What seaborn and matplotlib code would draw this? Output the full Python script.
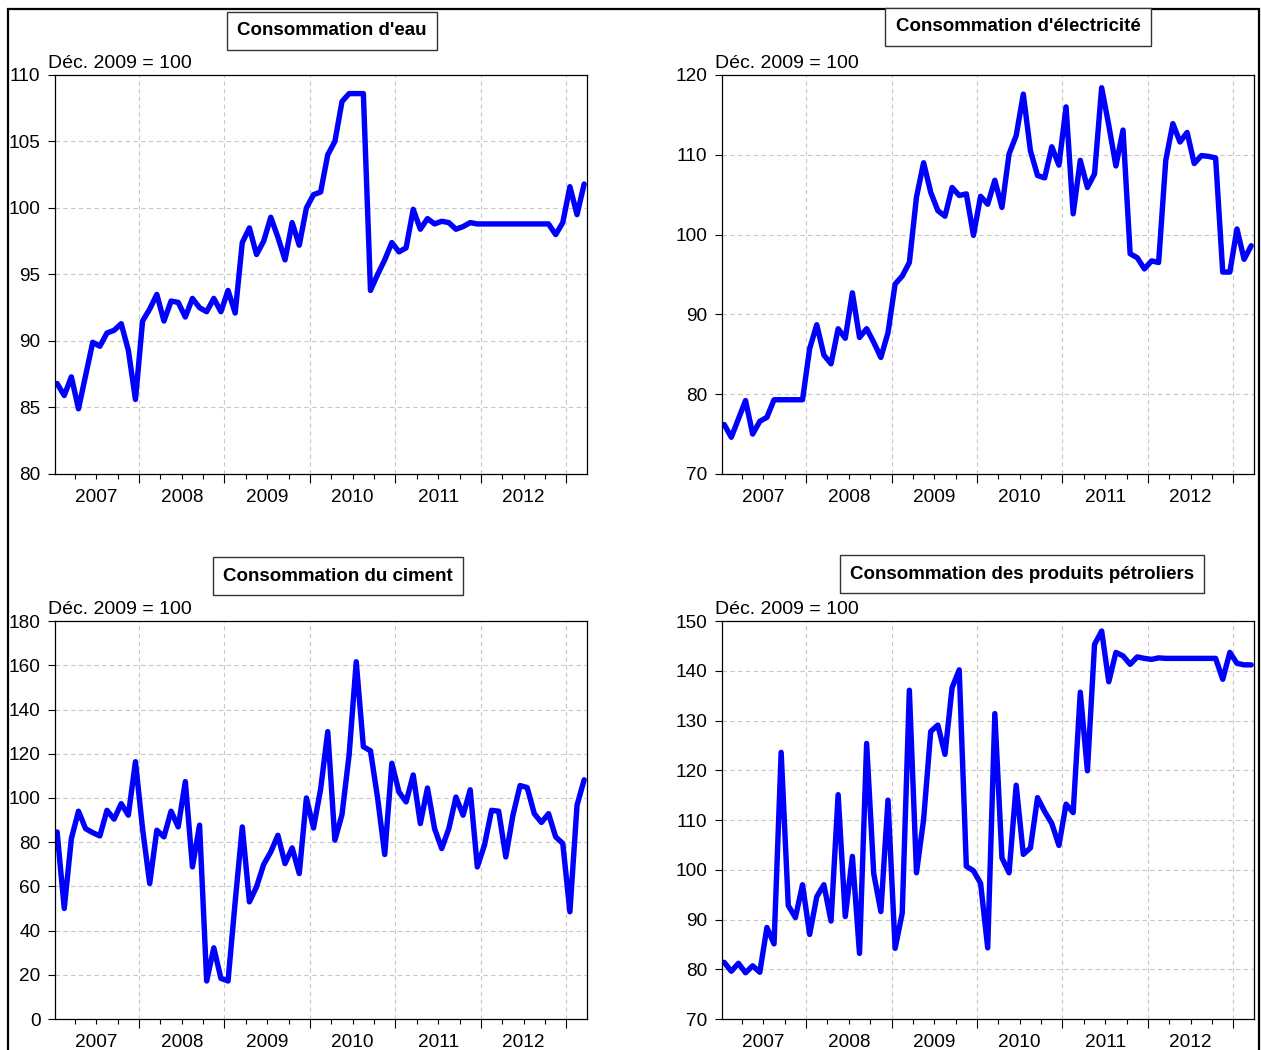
import numpy as np
import pandas as pd
import matplotlib
matplotlib.use('Agg')
import matplotlib.pyplot as plt
import seaborn as sns
from matplotlib.patches import Rectangle

# monthly series, Jan 2007 - Mar 2013 (Déc. 2009 = 100)
months = pd.date_range("2007-01-01", periods=75, freq="MS")

water = [86.8, 85.9, 87.3, 84.9, 87.4, 89.9, 89.6, 90.6, 90.8, 91.3, 89.3, 85.6,
         91.5, 92.4, 93.5, 91.5, 93.0, 92.9, 91.8, 93.2, 92.5, 92.2, 93.2, 92.2,
         93.8, 92.1, 97.4, 98.5, 96.5, 97.5, 99.3, 97.8, 96.1, 98.9, 97.2, 100.0,
         101.0, 101.2, 104.0, 105.0, 108.0, 108.6, 108.6, 108.6, 93.8, 95.0, 96.1, 97.4,
         96.7, 97.0, 99.9, 98.4, 99.2, 98.8, 99.0, 98.9, 98.4, 98.6, 98.9, 98.8,
         98.8, 98.8, 98.8, 98.8, 98.8, 98.8, 98.8, 98.8, 98.8, 98.8, 98.0, 98.9,
         101.6, 99.5, 101.8]

elec = [76.2, 74.6, 76.9, 79.2, 75.0, 76.6, 77.1, 79.3, 79.3, 79.3, 79.3, 79.3,
        85.7, 88.7, 84.9, 83.8, 88.2, 87.0, 92.7, 87.1, 88.2, 86.5, 84.6, 87.7,
        93.8, 94.8, 96.5, 104.7, 109.0, 105.3, 103.0, 102.3, 105.9, 104.9, 105.1, 99.9,
        104.8, 103.8, 106.8, 103.4, 110.1, 112.4, 117.6, 110.5, 107.4, 107.1, 111.0, 108.7,
        116.0, 102.6, 109.3, 105.9, 107.6, 118.4, 113.7, 108.6, 113.1, 97.6, 97.1, 95.7,
        96.7, 96.5, 109.3, 113.9, 111.6, 112.8, 108.9, 109.9, 109.8, 109.6, 95.3, 95.3,
        100.7, 96.9, 98.6]

cement = [84.6, 50.0, 81.6, 94.0, 86.1, 84.3, 82.8, 94.4, 90.4, 97.4, 92.2, 116.4,
          86.0, 61.3, 85.4, 82.4, 94.0, 86.9, 107.4, 68.8, 87.7, 17.2, 32.2, 18.4,
          17.2, 53.0, 86.9, 53.0, 59.8, 69.9, 75.6, 83.1, 70.3, 77.4, 65.8, 100.0,
          86.4, 104.0, 130.0, 80.9, 92.5, 119.5, 161.6, 123.2, 121.3, 100.0, 74.4, 115.7,
          102.7, 98.2, 110.4, 88.4, 104.5, 86.1, 77.1, 86.1, 100.4, 92.2, 103.7, 68.8,
          78.6, 94.4, 94.0, 73.3, 92.2, 105.6, 104.7, 92.9, 88.9, 92.9, 82.4, 79.4,
          48.5, 96.7, 108.2]

petrol = [81.4, 79.6, 81.2, 79.3, 80.7, 79.4, 88.4, 85.1, 123.6, 92.8, 90.4, 97.0,
          87.0, 94.6, 97.0, 89.7, 115.1, 90.6, 102.7, 83.2, 125.4, 99.2, 91.6, 114.0,
          84.2, 91.3, 136.1, 99.4, 110.1, 127.8, 129.1, 123.2, 136.6, 140.2, 100.7, 99.8,
          97.3, 84.3, 131.4, 102.4, 99.4, 117.0, 103.1, 104.4, 114.5, 111.7, 109.3, 104.9,
          113.2, 111.5, 135.7, 119.9, 145.3, 148.0, 137.8, 143.7, 143.0, 141.3, 142.8, 142.5,
          142.3, 142.6, 142.5, 142.5, 142.5, 142.5, 142.5, 142.5, 142.5, 142.5, 138.3, 143.7,
          141.5, 141.2, 141.2]

titles = ["Consommation d'eau", "Consommation d'électricité",
          "Consommation du ciment", "Consommation des produits pétroliers"]
series = [water, elec, cement, petrol]
y_ranges = [(80, 110, 5), (70, 120, 10), (0, 180, 20), (70, 150, 10)]
years = [2007, 2008, 2009, 2010, 2011, 2012]
base_label = "Déc. 2009 = 100"

sns.set_style("white")
plt.rcParams['font.family'] = ['Liberation Sans', 'DejaVu Sans']
plt.rcParams['font.size'] = 13.5
plt.rcParams['text.color'] = 'black'
plt.rcParams['xtick.color'] = 'black'
plt.rcParams['ytick.color'] = 'black'
plt.rcParams['axes.labelcolor'] = 'black'

# x as decimal years
x = months.year + (months.month - 1) / 12.0

fig = plt.figure(figsize=(12.61, 10.5), dpi=100)

# axes rects and title box centres (figure fraction)
rects = [(0.0436, 0.5486, 0.4219, 0.380), (0.5726, 0.5486, 0.4219, 0.380),
         (0.0436, 0.0295, 0.4219, 0.379), (0.5726, 0.0295, 0.4219, 0.379)]
title_pos = [(0.2633, 0.9705), (0.8073, 0.9743), (0.2680, 0.4514), (0.8105, 0.4533)]

grid_kw = dict(color='#c8c8c8', linewidth=0.8, linestyle=(0, (4, 3)))

for k in range(4):
    ax = fig.add_axes(rects[k])
    df = pd.DataFrame({'x': x, 'y': series[k]})
    sns.lineplot(data=df, x='x', y='y', ax=ax, color='#0000ff', linewidth=3.9)

    lo, hi, step = y_ranges[k]
    ax.set_ylim(lo, hi)
    ax.set_yticks(np.arange(lo, hi + step / 2, step))
    ax.set_xlim(2007 - 0.3 / 12, 2007 + 74.4 / 12)

    bounds = [y - 1 / 24 for y in range(2008, 2014)]
    quarters = [2007 + q / 4 - 1 / 24 for q in range(1, 25) if q % 4 != 0]
    ax.set_xticks(bounds)
    ax.set_xticks(quarters, minor=True)
    ax.set_xticklabels([])
    ax.set_xlabel('')
    ax.set_ylabel('')

    ax.tick_params(axis='x', which='major', direction='out', length=6.5, width=0.8, color='black')
    ax.tick_params(axis='x', which='minor', direction='out', length=3.6, width=0.8, color='black')
    ax.tick_params(axis='y', which='major', direction='out', length=5, width=0.8,
                   color='black', labelcolor='black', labelsize=13.7, pad=5.5)
    ax.tick_params(left=True, bottom=True, which='both')

    for y in np.arange(lo + step, hi, step):
        ax.axhline(y, zorder=0, **grid_kw)
    for b in bounds:
        ax.axvline(b, zorder=0, **grid_kw)

    for s in ax.spines.values():
        s.set_color('black')
        s.set_linewidth(0.9)

    for yr in years:
        ax.annotate(str(yr), xy=(yr + 5.5 / 12, 0), xycoords=('data', 'axes fraction'),
                    xytext=(0, -10.5), textcoords='offset points',
                    ha='center', va='top', fontsize=13.7, color='black')

    ax.text(-0.013, 1.008, base_label, transform=ax.transAxes,
            ha='left', va='bottom', fontsize=14, color='black')

    fig.text(title_pos[k][0], title_pos[k][1], titles[k], ha='center', va='center',
             fontsize=13.5, fontweight='bold', color='black',
             bbox=dict(boxstyle='square,pad=0.55', facecolor='white',
                       edgecolor='#333333', linewidth=1.0))

# outer frame
fig.patches.append(Rectangle((0.0063, -0.02), 0.9921, 0.0114 + 1.0, transform=fig.transFigure,
                             fill=False, edgecolor='black', linewidth=1.6))

fig.savefig('out.png', dpi=100)
